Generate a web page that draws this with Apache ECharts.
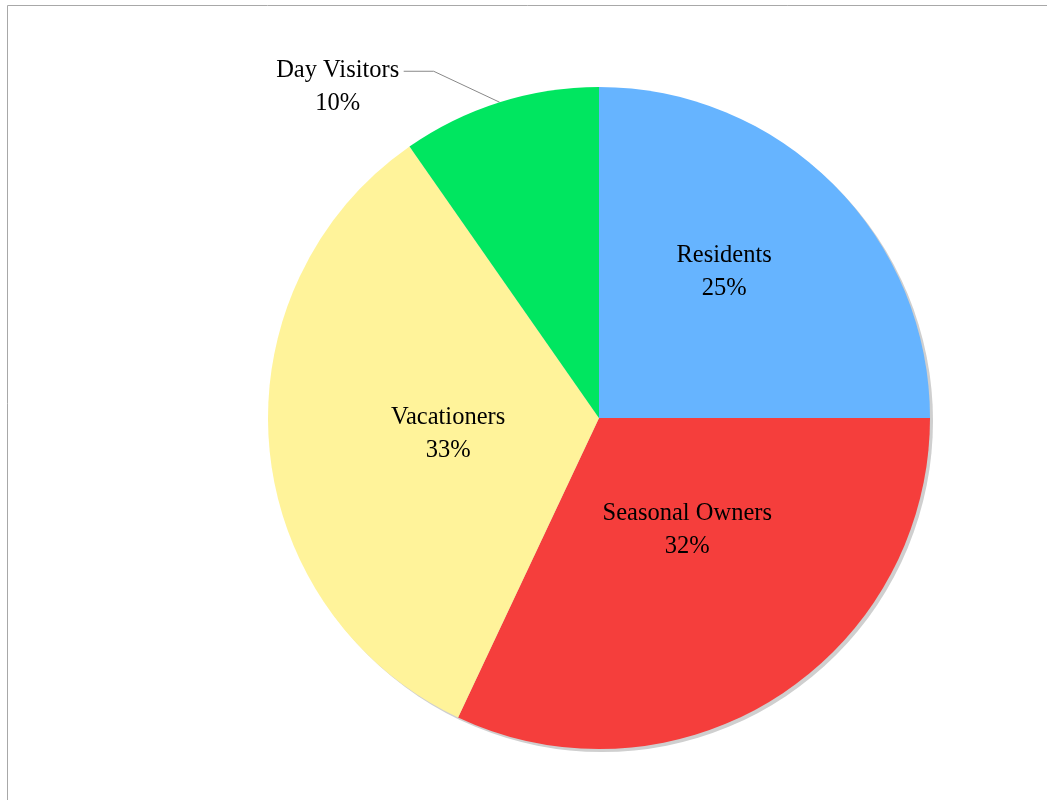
<!DOCTYPE html>
<html>
<head>
<meta charset="utf-8">
<title>Pie</title>
<script src="https://cdn.jsdelivr.net/npm/echarts@6/dist/echarts.min.js"></script>
<style>
  html, body { margin: 0; padding: 0; background: #fff; }
  #main { width: 1047px; height: 800px; }
</style>
</head>
<body>
<div id="main"></div>
<script>
// data
var categories = ["Residents", "Seasonal Owners", "Vacationers", "Day Visitors"];
var shares = [25, 32, 33.3, 9.7];
var colors = ["#66b4ff", "#f53e3c", "#fff39a", "#00e660"];

var myChart = echarts.init(document.getElementById("main"));

var pieData = categories.map(function (name, i) {
  var item = { name: name, value: shares[i], itemStyle: { color: colors[i] } };
  // the small slice gets its label outside with a leader line
  if (name === "Day Visitors") {
    item.label = { position: "outside" };
    item.labelLine = { show: true };
  }
  return item;
});

// nudges for the inside labels
var labelShift = {
  0: [6, -27],
  1: [-2, -30],
  2: [17, 2]
};

var option = {
  animation: false,
  // thin frame at the top and left
  graphic: [
    {
      type: "rect",
      shape: { x: 7.5, y: 5.5, width: 2000, height: 2000 },
      style: { fill: "none", stroke: "#a8a8a8", lineWidth: 1 },
      silent: true
    }
  ],
  series: [
    // grey shadow under the pie
    {
      type: "pie",
      silent: true,
      center: [602, 421],
      radius: 331,
      label: { show: false },
      labelLine: { show: false },
      itemStyle: { color: "#cfcfcf" },
      data: [{ value: 1, name: "" }]
    },
    {
      type: "pie",
      center: [599, 418],
      radius: 331,
      startAngle: 90,
      clockwise: true,
      avoidLabelOverlap: false,
      percentPrecision: 0,
      emphasis: { disabled: true },
      label: {
        show: true,
        position: "inside",
        formatter: "{b}\n{d}%",
        color: "#000",
        fontFamily: "Liberation Serif",
        fontSize: 24.5,
        lineHeight: 33
      },
      labelLine: {
        lineStyle: { color: "#888", width: 1 }
      },
      labelLayout: function (params) {
        if (params.dataIndex === 3) {
          var p = params.labelLinePoints[0];
          return {
            x: p[0] - 162,
            y: p[1] - 15,
            align: "center",
            verticalAlign: "middle",
            labelLinePoints: [p, [p[0] - 66, p[1] - 31], [p[0] - 96, p[1] - 31]]
          };
        }
        var s = labelShift[params.dataIndex];
        return { dx: s[0], dy: s[1] };
      },
      data: pieData
    }
  ]
};

myChart.setOption(option);
</script>
</body>
</html>
